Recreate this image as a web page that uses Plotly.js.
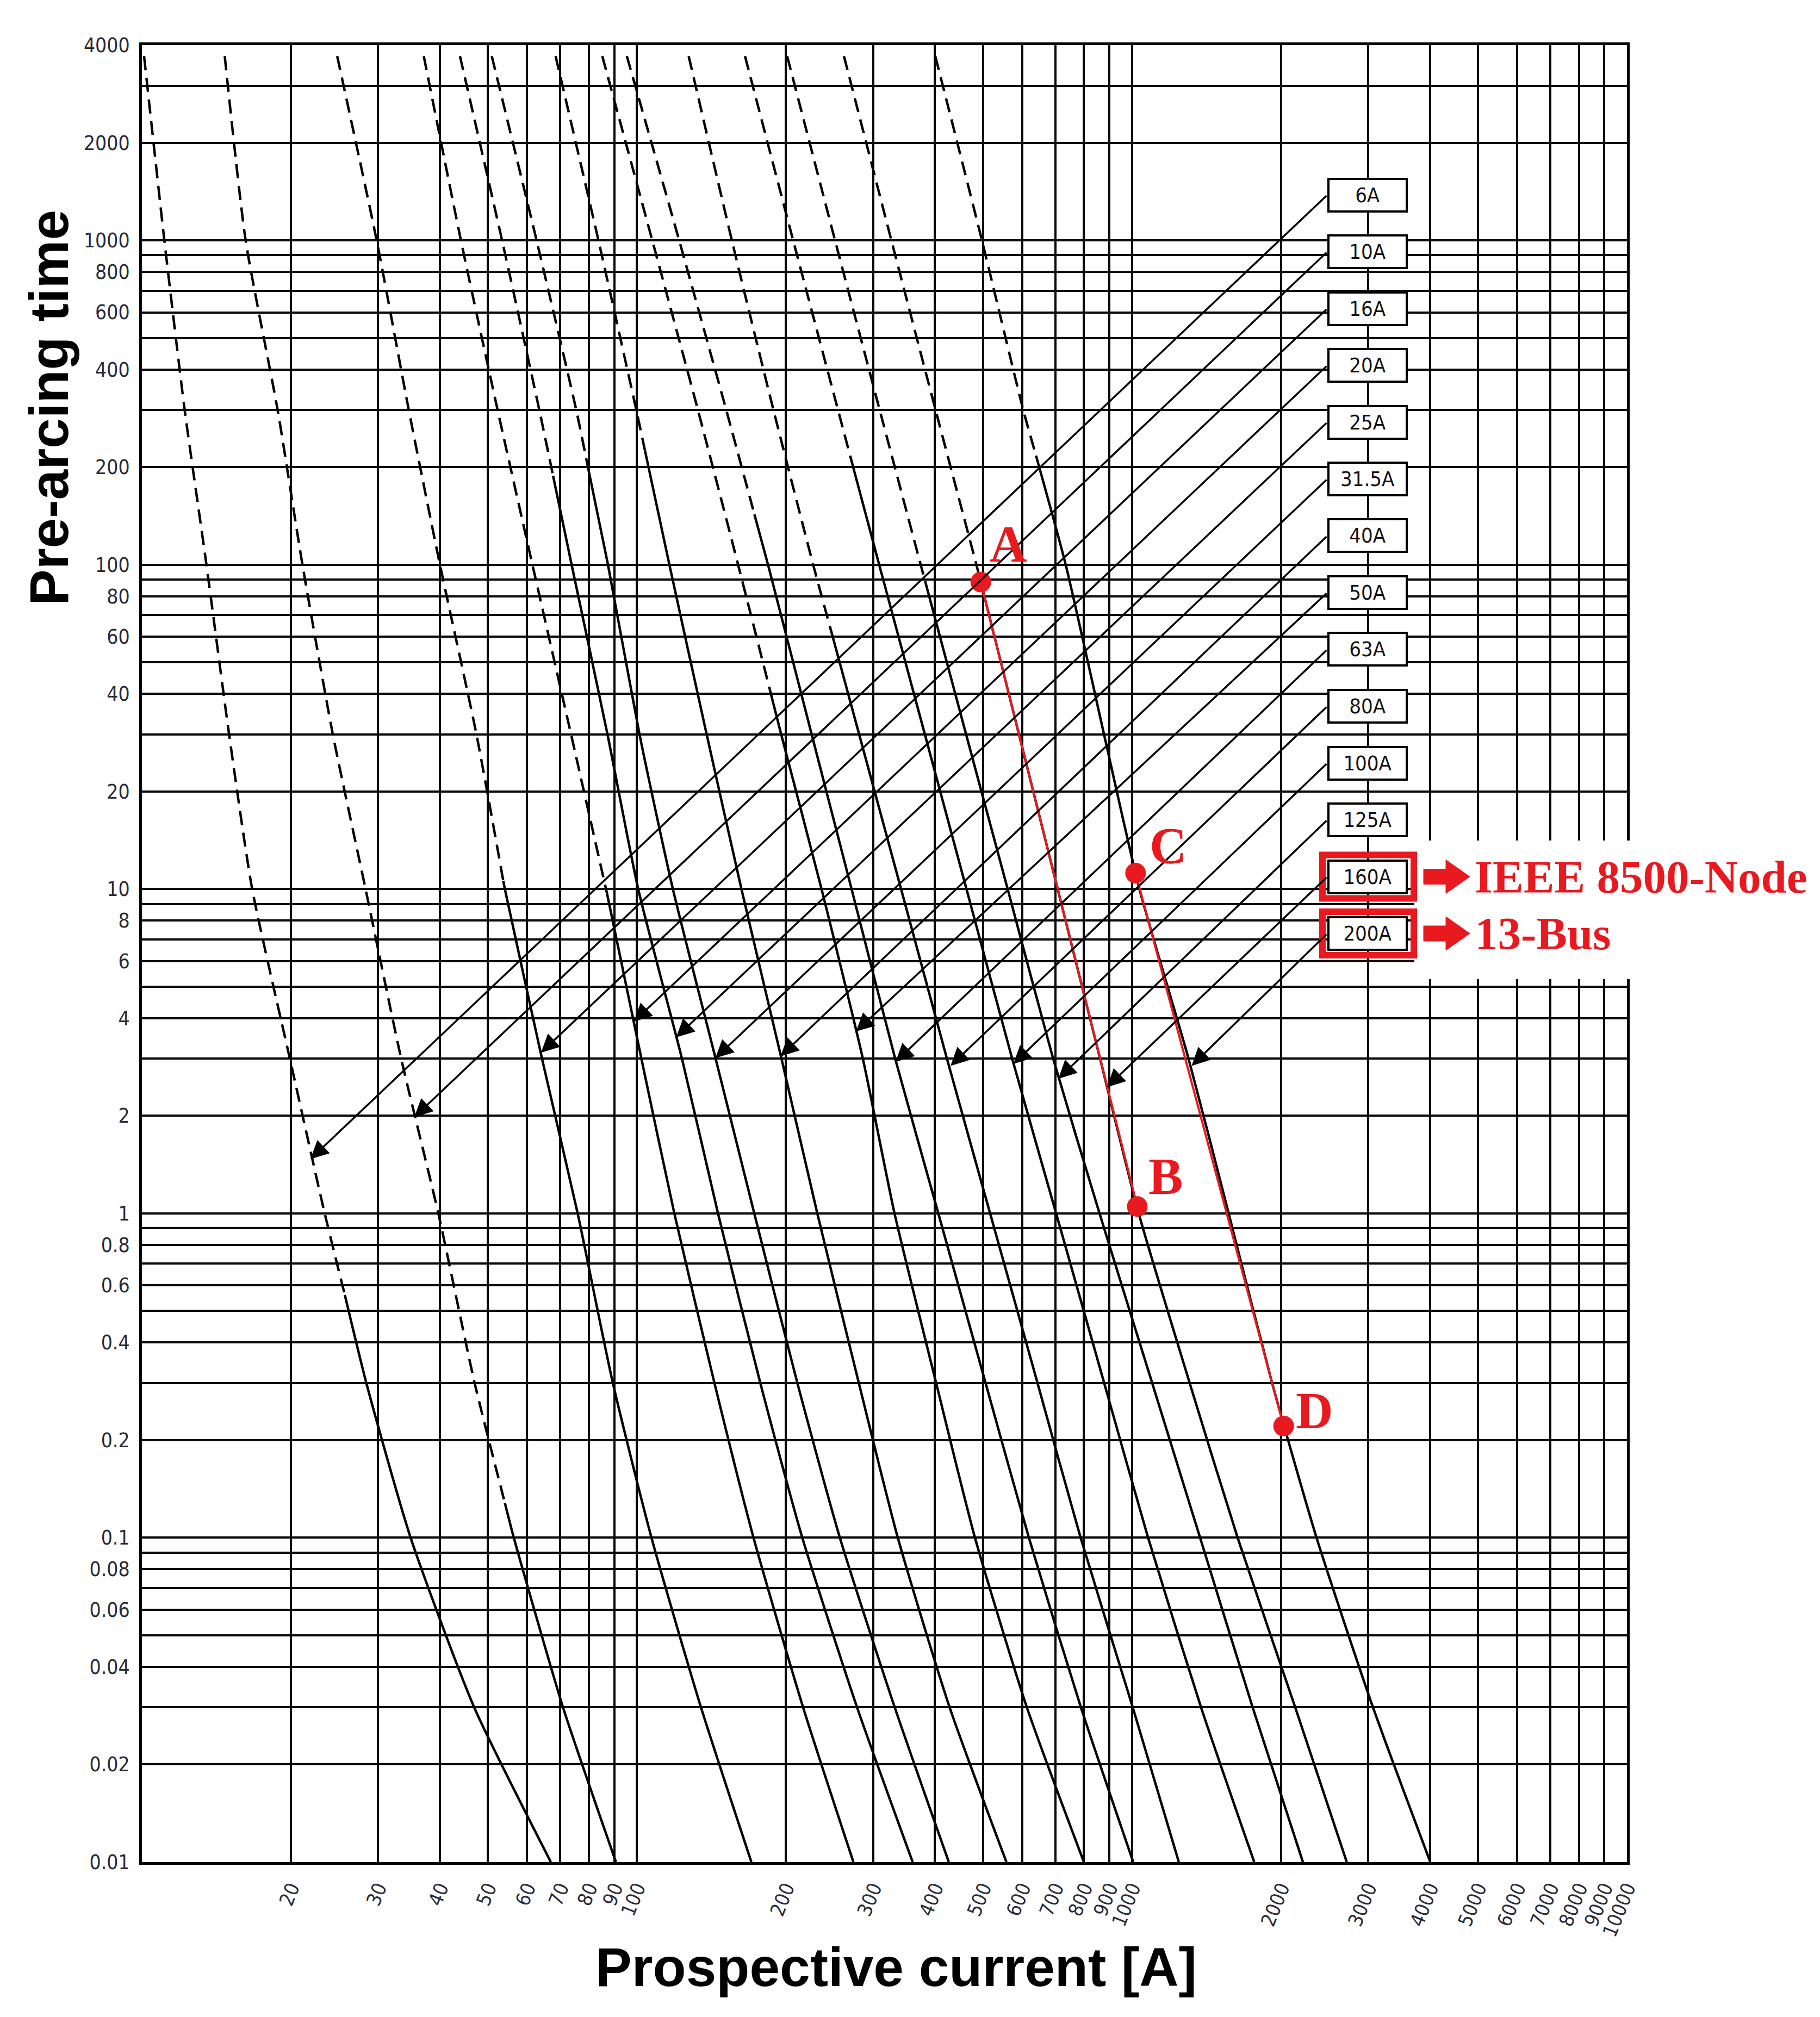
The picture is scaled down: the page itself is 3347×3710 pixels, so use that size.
<!DOCTYPE html>
<html>
<head>
<meta charset="utf-8">
<script src="https://cdn.plot.ly/plotly-3.0.1.min.js"></script>
<style>
  html, body { margin: 0; padding: 0; background: #fff; }
  #chart { width: 3347px; height: 3710px; }
</style>
</head>
<body>
<div id="chart"></div>
<script>
// fuse ratings, one melting curve each (left to right)
const ratings = ['6A', '10A', '16A', '20A', '25A', '31.5A', '40A', '50A', '63A', '80A', '100A', '125A', '160A', '200A'];

const timeGrid = [3700, 1000, 300, 100, 30, 10, 3, 1, 0.3, 0.1, 0.03, 0.01];

// prospective current (A) of each curve at those times
const current6A   = [10.1, 11.1, 12.2, 13.5, 15.0, 16.7, 19.9, 23.4, 28.4, 34.9, 46.9, 67.0];
const current10A  = [14.7, 16.2, 18.8, 21.1, 24.3, 28.3, 33.4, 39.7, 47.0, 56.4, 70.9, 90.7];
const current16A  = [24.8, 29.8, 34.6, 40.0, 47.4, 54.1, 64.3, 75.9, 89.4, 107, 134.7, 170.3];
const current20A  = [37.1, 44.1, 52.3, 61.5, 73.6, 86.6, 102.1, 119, 143.4, 172.0, 216.6, 273.7];
const current25A  = [43.9, 53.4, 63.5, 73.8, 87.2, 100.6, 123.3, 145.8, 177.5, 215.8, 278.4, 360.6];
const current31A  = [50.9, 62.7, 75.4, 87.4, 101.2, 118.2, 144.2, 172.6, 210.9, 257, 331.7, 426.6];
const current40A  = [68.5, 83.6, 99.7, 116.3, 138.3, 162.6, 195.9, 231.4, 280.7, 336.5, 428.2, 557.7];
const current50A  = [85.1, 107.4, 132.8, 160.1, 195.6, 236, 286, 331.4, 402.2, 481.8, 613.3, 799.6];
const current63A  = [95.4, 121.7, 151.5, 184, 225.4, 271.4, 332.4, 406.3, 506.2, 619.2, 788.6, 1006];
const current80A  = [127.2, 155.5, 188.7, 227, 281.1, 341.7, 422.9, 517, 644.5, 787.6, 1003.7, 1243.6];
const current100A = [165.3, 206.8, 254.8, 308.6, 381.6, 463.2, 572.8, 702.8, 878.8, 1078, 1379, 1766];
const current125A = [201.1, 251.3, 309.3, 374.3, 462.3, 561, 693.1, 860, 1098.6, 1373, 1753, 2215];
const current160A = [261.9, 326.6, 401.1, 485, 591.2, 707.9, 862.2, 1032, 1308, 1635, 2137, 2716];
const current200A = [400.6, 497.7, 603.1, 734.8, 878.2, 1035.4, 1301, 1568, 1919, 2360, 3068, 4006];

// where each curve turns from dashed (above) to solid (below)
const dashEndTime    = [0.56, 0.128, 10.6, 9.7, 188, 193, 225, 41, 143, 59, 206, 89, 88.4, 217];
const dashEndCurrent = [25.7, 54.1, 53.7, 87.0, 67.7, 80.0, 103.8, 185.7, 172.7, 249.3, 272.0, 382.1, 495, 640];

// where the arrow from each rating label touches its curve
const arrowCurrent = [21.9, 35.5, 64.0, 98.5, 120, 144, 195, 277, 333, 430, 576, 710, 890, 1320];
const arrowTime    = [1.47, 1.98, 3.13, 3.9, 3.49, 3.01, 3.05, 3.64, 2.93, 2.85, 2.89, 2.6, 2.45, 2.85];

// marked operating points
const pointLabels  = ['A', 'B', 'C', 'D'];
const pointCurrent = [495, 1025, 1017, 2025];
const pointTime    = [88.4, 1.05, 11.2, 0.221];

// grid lines / tick labels
const xGridValues = [20, 30, 40, 50, 60, 70, 80, 90, 100, 200, 300, 400, 500, 600, 700, 800, 900,
                     1000, 2000, 3000, 4000, 5000, 6000, 7000, 8000, 9000, 10000];
const yGridValues = [0.01, 0.02, 0.03, 0.04, 0.05, 0.06, 0.07, 0.08, 0.09, 0.1, 0.2, 0.3, 0.4, 0.5, 0.6, 0.7, 0.8, 0.9,
                     1, 2, 3, 4, 5, 6, 7, 8, 9, 10, 20, 30, 40, 50, 60, 70, 80, 90,
                     100, 200, 300, 400, 500, 600, 700, 800, 900, 1000, 2000, 3000, 4000];
const yLabelValues = [0.01, 0.02, 0.04, 0.06, 0.08, 0.1, 0.2, 0.4, 0.6, 0.8, 1, 2, 4, 6, 8,
                      10, 20, 40, 60, 80, 100, 200, 400, 600, 800, 1000, 2000, 4000];

const curveCurrents = [current6A, current10A, current16A, current20A, current25A, current31A, current40A,
                       current50A, current63A, current80A, current100A, current125A, current160A, current200A];

// plot area in page pixels, used to place the decorations
const L = 261, T = 83, W = 2731, H = 3342;
const yTop = Math.log10(4000);
const paperX = px => (px - L) / W;
const paperY = py => 1 - (py - T) / H;
const logX = px => 1 + 3 * (px - L) / W;
const logY = py => yTop - (yTop + 2) * (py - T) / H;

const RED = '#e8191f';
const NARROW = "'Liberation Sans Narrow', 'Arial Narrow', 'DejaVu Sans Condensed', 'Liberation Sans', sans-serif";
const SERIF = "'Liberation Serif', 'Times New Roman', serif";

var traces = [];
curveCurrents.forEach(function (cur, k) {
    var tEnd = dashEndTime[k], iEnd = dashEndCurrent[k];
    var upX = [], upY = [], loX = [iEnd], loY = [tEnd];
    timeGrid.forEach(function (t, j) {
        if (t > tEnd) { upX.push(cur[j]); upY.push(t); }
        else { loX.push(cur[j]); loY.push(t); }
    });
    upX.push(iEnd); upY.push(tEnd);
    traces.push({
        x: upX, y: upY, type: 'scatter', mode: 'lines', name: ratings[k],
        line: { color: '#000', width: 4.5, dash: '26px,14px', shape: 'spline', smoothing: 0.6 },
        hoverinfo: 'skip', showlegend: false
    });
    traces.push({
        x: loX, y: loY, type: 'scatter', mode: 'lines', name: ratings[k],
        line: { color: '#000', width: 4.5, shape: 'spline', smoothing: 0.6 },
        hoverinfo: 'skip', showlegend: false
    });
});

// red segments A-B and C-D
[[0, 1], [2, 3]].forEach(function (p) {
    traces.push({
        x: [pointCurrent[p[0]], pointCurrent[p[1]]],
        y: [pointTime[p[0]], pointTime[p[1]]],
        type: 'scatter', mode: 'lines',
        line: { color: RED, width: 4 }, showlegend: false, hoverinfo: 'skip'
    });
});
traces.push({
    x: pointCurrent, y: pointTime, type: 'scatter', mode: 'markers',
    marker: { color: RED, size: 38 }, showlegend: false, hoverinfo: 'skip'
});

var annotations = [];
var shapes = [];

// rating boxes with arrows to their curves
ratings.forEach(function (r, i) {
    var cy = 358.5 + 104.5 * i;
    annotations.push({
        xref: 'paper', yref: 'paper', x: paperX(2515), y: paperY(cy),
        xanchor: 'center', yanchor: 'middle', text: r, showarrow: false,
        width: 140, height: 56, borderpad: 0, borderwidth: 4,
        bordercolor: '#000', bgcolor: '#fff',
        font: { family: NARROW, size: 38, color: '#111' }
    });
    annotations.push({
        xref: 'x', yref: 'y', axref: 'x', ayref: 'y',
        x: Math.log10(arrowCurrent[i]), y: Math.log10(arrowTime[i]),
        ax: logX(2441), ay: logY(cy),
        text: '', showarrow: true, arrowhead: 2, arrowsize: 1.9, arrowwidth: 3.5,
        arrowcolor: '#000', standoff: 0, startstandoff: 0
    });
});

// white patch behind the red notes
shapes.push({
    type: 'rect', xref: 'paper', yref: 'paper', layer: 'above',
    x0: paperX(2601), x1: paperX(3347), y0: paperY(1801), y1: paperY(1546),
    fillcolor: '#fff', line: { width: 0 }
});
// red frames on 160A and 200A, block arrows and notes
[[12, 'IEEE 8500-Node'], [13, '13-Bus']].forEach(function (n) {
    var cy = 358.5 + 104.5 * n[0];
    shapes.push({
        type: 'rect', xref: 'paper', yref: 'paper', layer: 'above',
        x0: paperX(2432), x1: paperX(2600), y0: paperY(cy + 40), y1: paperY(cy - 40),
        line: { color: RED, width: 12 }
    });
    var p = [[2618, cy - 14], [2659, cy - 14], [2659, cy - 31], [2703, cy],
             [2659, cy + 31], [2659, cy + 14], [2618, cy + 14]];
    shapes.push({
        type: 'path', xref: 'paper', yref: 'paper', layer: 'above',
        path: 'M' + p.map(function (q) { return paperX(q[0]) + ',' + paperY(q[1]); }).join('L') + 'Z',
        fillcolor: RED, line: { color: RED, width: 1 }
    });
    annotations.push({
        xref: 'paper', yref: 'paper', x: paperX(2710), y: paperY(cy),
        xanchor: 'left', yanchor: 'middle', text: n[1], showarrow: false,
        font: { family: SERIF, size: 85, color: RED, weight: 'bold' }
    });
});

// point letters
var letterShift = [[51, 70], [52, 55], [60, 50], [57, 28]];
pointLabels.forEach(function (lab, i) {
    annotations.push({
        xref: 'x', yref: 'y', x: Math.log10(pointCurrent[i]), y: Math.log10(pointTime[i]),
        xshift: letterShift[i][0], yshift: letterShift[i][1],
        text: lab, showarrow: false, xanchor: 'center', yanchor: 'middle',
        font: { family: SERIF, size: 95, color: RED, weight: 'bold' }
    });
});

// axis titles
annotations.push({
    xref: 'paper', yref: 'paper', x: paperX(90), y: paperY(750),
    text: 'Pre-arcing time', textangle: -90, showarrow: false,
    xanchor: 'center', yanchor: 'middle',
    font: { family: "'Liberation Sans', Arial, sans-serif", size: 100, color: '#000', weight: 'bold' }
});
annotations.push({
    xref: 'paper', yref: 'paper', x: paperX(1648), y: paperY(3618),
    text: 'Prospective current [A]', showarrow: false,
    xanchor: 'center', yanchor: 'middle',
    font: { family: "'Liberation Sans', Arial, sans-serif", size: 100, color: '#000', weight: 'bold' }
});

var axisCommon = {
    type: 'log', showgrid: true, gridcolor: '#0a0a0a', gridwidth: 4,
    showline: true, mirror: true, linecolor: '#000', linewidth: 5,
    ticks: '', zeroline: false, automargin: false, fixedrange: true,
    tickmode: 'array'
};

var layout = {
    width: 3347, height: 3710, autosize: false,
    margin: { l: L, r: 3347 - L - W, t: T, b: 3710 - T - H, pad: 0 },
    paper_bgcolor: '#fff', plot_bgcolor: '#fff',
    showlegend: false,
    xaxis: Object.assign({}, axisCommon, {
        range: [1, 4],
        tickvals: xGridValues,
        ticktext: xGridValues.map(String),
        tickangle: -68,
        ticklabelstandoff: 8,
        tickfont: { family: NARROW, size: 36, color: '#2a2a38' }
    }),
    yaxis: Object.assign({}, axisCommon, {
        range: [-2, yTop],
        tickvals: yGridValues,
        ticktext: yGridValues.map(function (v) { return yLabelValues.indexOf(v) >= 0 ? String(v) : ''; }),
        ticklabelstandoff: 10,
        tickfont: { family: NARROW, size: 37, color: '#2a2a38' }
    }),
    annotations: annotations,
    shapes: shapes
};

Plotly.newPlot('chart', traces, layout, { staticPlot: true, displayModeBar: false });
</script>
</body>
</html>
